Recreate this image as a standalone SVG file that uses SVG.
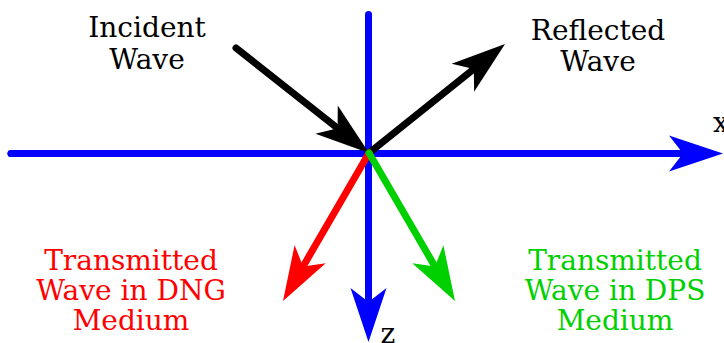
<svg xmlns="http://www.w3.org/2000/svg" width="724" height="343" viewBox="0 0 724 343">
<style>
  .t { font-family: "DejaVu Serif", serif; font-size: 28px; text-anchor: middle; }
  .ln { fill: none; stroke-width: 7; stroke-linecap: round; }
  .blue { stroke: #0000ff; }
  .black { stroke: #000000; }
  .red { stroke: #ff0000; }
  .green { stroke: #00d000; }
</style>
<defs>
  <marker id="hb" markerUnits="userSpaceOnUse" orient="auto" overflow="visible" refX="0" refY="0" markerWidth="1" markerHeight="1">
    <path d="M40 0 L-14 -18 L0 0 L-14 18 Z" fill="#0000ff"/>
  </marker>
  <marker id="hk" markerUnits="userSpaceOnUse" orient="auto" overflow="visible" refX="0" refY="0" markerWidth="1" markerHeight="1">
    <path d="M40 0 L-14 -18 L0 0 L-14 18 Z" fill="#000000"/>
  </marker>
  <marker id="hr" markerUnits="userSpaceOnUse" orient="auto" overflow="visible" refX="0" refY="0" markerWidth="1" markerHeight="1">
    <path d="M40 0 L-14 -18 L0 0 L-14 18 Z" fill="#ff0000"/>
  </marker>
  <marker id="hg" markerUnits="userSpaceOnUse" orient="auto" overflow="visible" refX="0" refY="0" markerWidth="1" markerHeight="1">
    <path d="M40 0 L-14 -18 L0 0 L-14 18 Z" fill="#00d000"/>
  </marker>
</defs>
<g id="connectors">
  <line class="ln blue" x1="11" y1="153.5" x2="683" y2="153.5" stroke-linecap="butt" marker-end="url(#hb)"/>
  <line x1="11" y1="153.5" x2="20" y2="153.5" class="ln blue"/>
  <line class="ln blue" x1="368.5" y1="14.5" x2="368.5" y2="302" marker-end="url(#hb)"/>
  <line class="ln black" x1="236" y1="48" x2="337.6" y2="128.2" marker-end="url(#hk)"/>
  <line class="ln black" x1="369" y1="153" x2="473.8" y2="69" marker-end="url(#hk)"/>
  <line class="ln red" x1="369" y1="153" x2="303.1" y2="266.4" marker-end="url(#hr)"/>
  <line class="ln green" x1="369" y1="153" x2="434.9" y2="266.4" marker-end="url(#hg)"/>
</g>
<g id="incident">
  <text class="t" x="147" y="37">Incident</text>
  <text class="t" x="147" y="69">Wave</text>
</g>
<g id="reflected">
  <text class="t" x="598" y="40">Reflected</text>
  <text class="t" x="598" y="71">Wave</text>
</g>
<g id="dng" fill="#ff0000">
  <text class="t" x="131" y="270">Transmitted</text>
  <text class="t" x="131" y="300">Wave in DNG</text>
  <text class="t" x="131" y="330">Medium</text>
</g>
<g id="dps" fill="#00d000">
  <text class="t" x="615" y="270">Transmitted</text>
  <text class="t" x="615" y="300">Wave in DPS</text>
  <text class="t" x="615" y="330">Medium</text>
</g>
<g id="xlabel"><text class="t" x="721" y="132">x</text></g>
<g id="zlabel"><text class="t" x="388" y="343">z</text></g>
</svg>
